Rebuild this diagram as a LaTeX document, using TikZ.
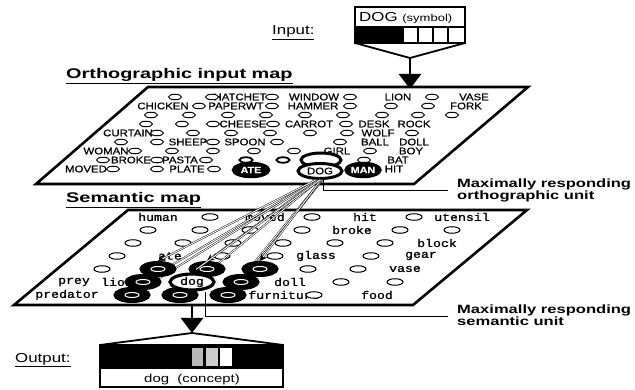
\documentclass[tikz,border=0pt]{standalone}
\usepackage{fontspec}
\setmainfont{Liberation Sans}
\newfontfamily\ttlfont[FakeStretch=1.42]{Liberation Sans}
\newfontfamily\lblfont[FakeStretch=1.3]{Liberation Sans}
\newfontfamily\mxfont[FakeStretch=1.38]{Liberation Sans}
\newfontfamily\orfont[FakeStretch=1.2,FakeBold=0.6]{Liberation Sans}
\newfontfamily\smfont[FakeStretch=1.2,FakeBold=1.2]{Liberation Mono}
\usetikzlibrary{shapes.geometric,arrows.meta}
\begin{document}
\begin{tikzpicture}[x=1pt,y=-1pt,
  mapedge/.style={draw=black,line width=2.6pt,line join=miter,fill=white},
  ou/.style={ellipse,draw,line width=1pt,fill=white,minimum width=13pt,minimum height=5.5pt,inner sep=0pt},
  ouh/.style={ou,line width=1.8pt},
  ow/.style={inner sep=0pt,font=\orfont\fontsize{9.5}{9.5}\selectfont},
  su/.style={ellipse,draw,line width=1pt,fill=white,minimum width=16pt,minimum height=6.5pt,inner sep=0pt},
  sw/.style={inner sep=0pt,font=\smfont\fontsize{11}{11}\selectfont},
  ohotf/.style={ellipse,draw,line width=2.5pt,fill=black,text=white,minimum width=36pt,minimum height=14pt,inner sep=0pt,font=\orfont\bfseries\fontsize{9}{9}\selectfont},
  ohotr/.style={ellipse,draw,line width=3pt,fill=white,minimum width=44pt,minimum height=15pt,inner sep=0pt,font=\orfont\fontsize{9.5}{9.5}\selectfont},
  shot/.style={ellipse,draw,line width=3pt,fill=black,minimum width=34pt,minimum height=13pt,inner sep=0pt},
  shotr/.style={ellipse,draw,line width=3.2pt,fill=white,minimum width=44pt,minimum height=16pt,inner sep=0pt,font=\smfont\fontsize{11}{11}\selectfont},
  ttl/.style={inner sep=0pt,anchor=base west,font=\ttlfont\bfseries\fontsize{14}{14}\selectfont},
  lbl/.style={inner sep=0pt,anchor=base west,font=\lblfont\fontsize{13}{13}\selectfont},
  mx/.style={inner sep=0pt,anchor=base west,font=\mxfont\bfseries\fontsize{12}{12}\selectfont},
  bigarrow/.style={line width=2.8pt,-{Triangle[length=15pt,width=22pt]}},
  pointer/.style={line width=0.9pt},
  conn/.style={line width=0.45pt,double,double distance=0.9pt},
  conntip/.style={conn,-{Stealth[length=7pt,width=7pt]}},
  box/.style={line width=1.8pt}
]
\useasboundingbox (0,0) rectangle (635,390);
\fill[white] (0,0) rectangle (635,390);

% ---------- input ----------
\node[lbl] (inlbl) at (272,35) {\underline{Input:}};
\fill[black] (355,27) rectangle (403,43);
\draw[box] (355,7) rectangle (465,43);
\draw[box] (355,27) -- (465,27);
\foreach \x in {403,418,433,448} \draw[box] (\x,27) -- (\x,43);
\node[inner sep=0pt,anchor=base west,font=\lblfont\fontsize{13}{13}\selectfont] (insym) at (359,22) {DOG {\fontsize{10}{10}\selectfont(symbol)}};
\coordinate (inapex) at (410,58);
\draw[box,line join=miter] (355,43) -- (inapex) -- (465,43);
\coordinate (otop) at (410,89);
\draw[bigarrow] (inapex) -- (otop);

% ---------- orthographic map ----------
\node[ttl] (otitle) at (66,79) {\underline{Orthographic input map}};
\draw[mapedge] (148,87) -- (528,87) -- (414,184) -- (36,184) -- cycle;

\foreach \x/\y/\w [count=\i] in {
  240/97/HATCHET, 314/97/WINDOW, 398/97/LION, 474/97/VASE,
  163/106/CHICKEN, 236/106/PAPERWT, 313/106/HAMMER, 466/106/FORK,
  243/124/CHEESE, 309/124/CARROT, 374/124/DESK, 414/124/ROCK,
  128/133/CURTAIN, 378/133/WOLF,
  188/142/SHEEP, 245/142/SPOON, 375/142/BALL, 414/142/DOLL,
  106/151/WOMAN, 337/151/GIRL, 411/151/BOY,
  131/160/BROKE, 180/160/PASTA, 398/160/BAT,
  86/169/MOVED, 187/169/PLATE, 394/169/HIT}
  \node[ow] (ow\i) at (\x,\y) {\w};

\foreach \x/\y [count=\i] in {
  175/97, 212/97, 272/97, 350/97, 432/97,
  199/106, 272/106, 350/106, 391/106, 428/106,
  151/115, 189/115, 228/115, 266/115, 305/115, 343/115, 382/115, 418/115, 452/115,
  146/124, 182/124, 213/124, 273/124, 346/124,
  157/133, 193/133, 231/133, 270/133, 310/133, 347/133, 412/133,
  121/142, 157/142, 213/142, 277/142, 340/142,
  135/151, 172/151, 213/151, 254/151, 294/151, 370/151,
  103/160, 157/160, 206/160, 364/160,
  113/169, 157/169, 214/169}
  \node[ou] (ou\i) at (\x,\y) {};

\node[ouh] (oh1) at (246,160) {};
\node[ouh] (oh2) at (283,160) {};
\node[ohotr,minimum width=40pt,minimum height=14pt] (oring) at (321,160) {};
\node[ohotf] (oate) at (251,170) {ATE};
\node[ohotf,minimum width=32pt] (oman) at (363,170) {MAN};
\node[ohotr] (dogo) at (320,171) {DOG};

\coordinate (opt) at (448,190);
\draw[pointer] ([xshift=3pt]dogo.south) |- (opt);
\node[mx] (omax1) at (457,188) {Maximally responding};
\node[mx] (omax2) at (457,200) {orthographic unit};

% ---------- semantic map ----------
\node[ttl] (stitle) at (66,203) {\underline{Semantic map}};
\draw[mapedge] (128,210) -- (527,210) -- (413,305) -- (14,305) -- cycle;

\foreach \x/\y/\w [count=\i] in {
  158/217/human, 265/217/moved, 365/217/hit, 462/217/utensil,
  352/230/broke,
  437/243/block,
  170/256/ate, 316/256/glass, 421/256/gear,
  405/269/vase,
  74/282/prey, 117/282/lion, 290/282/doll,
  67/295/predator, 284/295/furniture, 377/295/food}
  \node[sw] (sw\i) at (\x,\y) {\w};

\foreach \x/\y [count=\i] in {
  210/217, 312/217, 414/217,
  148/230, 200/230, 250/230, 302/230, 400/230, 452/230,
  133/243, 183/243, 233/243, 283/243, 335/243, 385/243,
  117/256, 222/256, 275/256, 371/256,
  102/269, 308/269, 358/269,
  341/282, 395/282,
  314/295}
  \node[su] (su\i) at (\x,\y) {};

% connections (behind the winning units)
\coordinate (s6a) at (143,282);
\coordinate (s6c) at (241,282);
\coordinate (s7a) at (132,295);
\coordinate (s7b) at (180,295);
\coordinate (s7c) at (228,295);
\foreach \t/\a in {s6a/250, s6c/285, s7a/255, s7b/265, s7c/280}
  \draw[conn] (dogo.\a) -- (\t);

\node[shot] (sh1) at (158,269) {};
\node[shot] (sh2) at (207,269) {};
\node[shot] (sh3) at (260,269) {};
\node[shot] (sh4) at (s6a) {};
\node[shot] (sh5) at (s6c) {};
\node[shot] (sh6) at (s7a) {};
\node[shot] (sh7) at (s7b) {};
\node[shot] (sh8) at (s7c) {};
\foreach \n in {sh1,sh2,sh3,sh4,sh5,sh6,sh7,sh8}
  \node[su,draw=white,fill=black,minimum width=14pt,minimum height=5pt] at (\n) {};
\node[shotr] (dogs) at (192,282) {dog};

\foreach \t/\a in {sh1/245, sh2/260, sh3/275, dogs/270}
  \draw[conntip] (dogo.\a) -- (\t.north);

\coordinate (spt) at (448,316);
\draw[pointer] ([xshift=13pt]dogs.south) |- (spt);
\node[mx] (smax1) at (457,314) {Maximally responding};
\node[mx] (smax2) at (457,326) {semantic unit};

% ---------- output ----------
\coordinate (sbot) at (192,305);
\coordinate (outapex) at (192,333);
\draw[bigarrow] (sbot) -- (outapex);
\fill[black] (100,345) rectangle (283,368);
\fill[gray!55] (192,348) rectangle (203,366);
\fill[gray!40] (206,348) rectangle (218,366);
\fill[white] (220,348) rectangle (232,366);
\draw[box] (100,345) rectangle (283,387);
\draw[box] (100,368) -- (283,368);
\draw[box,line join=miter] (100,345) -- (outapex) -- (283,345);
\node[inner sep=0pt,anchor=base,font=\lblfont\fontsize{11.5}{11.5}\selectfont] (outtxt) at (192,382) {dog\ \ (concept)};
\node[lbl] (outlbl) at (15,362) {\underline{Output:}};
\end{tikzpicture}
\end{document}
